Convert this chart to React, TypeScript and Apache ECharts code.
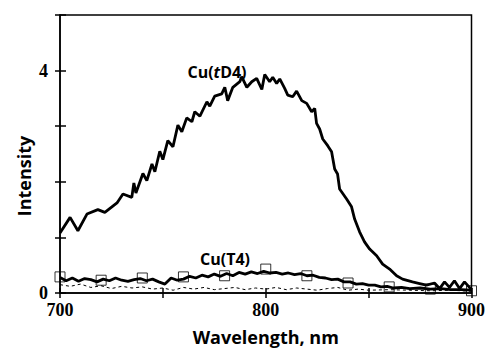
import React, { useEffect, useRef } from "react";
import * as echarts from "echarts";

// Cu(tD4) emission curve
const tD4Wavelengths = [
  700, 704.9, 708.7, 713.1, 718.4, 721.8, 727.7, 730.6, 734.9, 735.9, 736.9, 740.3, 742.2, 744.7, 746.1,
  748.5, 750.0, 752.4, 754.9, 757.3, 759.2, 761.6, 764.1, 765.5, 768.0, 771.4, 772.8, 775.2, 778.6,
  780.1, 781.5, 784.0, 787.4, 788.3, 790.8, 793.2, 795.6, 798.1, 799.5, 801.9, 803.4, 805.3, 806.8,
  809.2, 810.7, 813.1, 815.0, 817.5, 819.9, 822.3, 823.8, 824.7, 826.2, 827.7, 830.1, 832.0, 833.5,
  834.9, 835.9, 839.3, 841.7, 843.2, 845.6, 848.0, 850.5, 853.9, 856.8, 860.2, 863.6, 866.5, 871.3,
  874.8, 878.1, 882.0, 884.5, 886.9, 889.3, 891.7, 894.2, 896.6, 900,
];
const tD4Values = [
  1.08, 1.36, 1.12, 1.42, 1.5, 1.45, 1.62, 1.78, 1.72, 1.98, 1.8, 2.15, 2.02, 2.32, 2.18,
  2.55, 2.4, 2.74, 2.63, 3.02, 2.9, 3.15, 3.08, 3.26, 3.18, 3.44, 3.36, 3.54, 3.58,
  3.7, 3.46, 3.7, 3.8, 3.89, 3.7, 3.8, 3.86, 3.66, 3.93, 3.8, 3.88, 3.77, 3.85,
  3.68, 3.56, 3.53, 3.63, 3.46, 3.41, 3.26, 3.32, 3.05, 2.95, 2.77, 2.65, 2.54, 2.23,
  2.14, 1.87, 1.69, 1.55, 1.33, 1.1, 0.92, 0.79, 0.67, 0.52, 0.43, 0.31, 0.25, 0.2,
  0.17, 0.14, 0.18, 0.08, 0.2, 0.1, 0.22, 0.08, 0.2, 0.06,
];

// Cu(T4) emission curve
const t4Wavelengths = [
  700, 703, 706, 709, 712, 715, 718, 721, 724, 727, 730, 733, 736, 739, 742, 745, 748, 751, 754, 757,
  760, 763, 766, 769, 772, 775, 778, 781, 784, 787, 790, 793, 796, 799, 802, 805, 808, 811, 814, 817,
  820, 823, 826, 829, 832, 835, 838, 841, 844, 847, 850, 853, 856, 859, 862, 866, 870, 875, 880, 885,
  890, 895, 900,
];
const t4Values = [
  0.28, 0.22, 0.27, 0.21, 0.26, 0.24, 0.2, 0.25, 0.22, 0.27, 0.23, 0.21, 0.24, 0.26, 0.22, 0.25, 0.2, 0.16, 0.27, 0.23,
  0.25, 0.3, 0.27, 0.32, 0.29, 0.34, 0.3, 0.35, 0.31, 0.37, 0.34, 0.38, 0.35, 0.39, 0.36, 0.37, 0.34, 0.36, 0.33, 0.35,
  0.31, 0.32, 0.28, 0.27, 0.24, 0.25, 0.2, 0.2, 0.16, 0.17, 0.14, 0.14, 0.11, 0.12, 0.09, 0.1, 0.08, 0.09, 0.07, 0.08,
  0.06, 0.06, 0.05,
];

// Cu(T4) square markers
const t4MarkerWavelengths = [700, 720, 740, 760, 780, 800, 820, 840, 860, 880, 900];
const t4MarkerValues = [0.29, 0.23, 0.27, 0.29, 0.31, 0.43, 0.31, 0.18, 0.11, 0.07, 0.04];

// dashed baseline curve
const baseWavelengths = [
  700, 705, 710, 715, 720, 725, 730, 735, 740, 745, 750, 755, 760, 765, 770, 775, 780, 785, 790, 795,
  800, 805, 810, 815, 820, 825, 830, 835, 840, 845, 850, 860, 870, 880, 890, 900,
];
const baseValues = [
  0.15, 0.12, 0.16, 0.1, 0.13, 0.08, 0.12, 0.09, 0.11, 0.07, 0.09, 0.05, 0.1, 0.07, 0.1, 0.06, 0.08, 0.1, 0.06, 0.09,
  0.07, 0.1, 0.06, 0.09, 0.07, 0.05, 0.08, 0.1, 0.05, 0.07, 0.05, 0.06, 0.05, 0.04, 0.05, 0.03,
];

const xTickLabels = ["700", "800", "900"];
const yTickLabels = ["0", "4"];

const zip = (xs: number[], ys: number[]) => xs.map((x, i) => [x, ys[i]]);

export default function App() {
  const ref = useRef<HTMLDivElement>(null);
  useEffect(() => {
    if (!ref.current) return;
    const chart = echarts.init(ref.current, null, { renderer: "svg" });
    const serif = "'Liberation Serif', 'Times New Roman', serif";
    const sans = "'Open Sans', 'Noto Sans', sans-serif";
    const xBase = { type: "value", min: 700, max: 900, interval: 50 };
    const yBase = { type: "value", min: 0, max: 5, interval: 1 };
    chart.setOption({
      animation: false,
      grid: {
        left: 60,
        right: 16,
        top: 15,
        bottom: 57,
        show: true,
        borderColor: "#000",
        borderWidth: 1.5,
        backgroundColor: "transparent",
      },
      xAxis: [
        {
          ...xBase,
          name: "Wavelength, nm",
          nameLocation: "middle",
          nameGap: 35,
          nameTextStyle: { fontFamily: sans, fontWeight: "bold", fontSize: 18, color: "#000" },
          axisLine: { show: true, lineStyle: { color: "#000", width: 1.5 } },
          axisTick: { show: true, inside: false, length: 5, lineStyle: { color: "#000", width: 1.5 } },
          axisLabel: {
            margin: 8,
            fontFamily: serif,
            fontWeight: "bold",
            fontSize: 18,
            color: "#000",
            formatter: (v: number) => (xTickLabels.includes(String(v)) ? String(v) : ""),
          },
          splitLine: { show: false },
        },
        {
          ...xBase,
          position: "bottom",
          axisLine: { show: false },
          axisTick: { show: true, inside: true, length: 5, lineStyle: { color: "#000", width: 1.5 } },
          axisLabel: { show: false },
          splitLine: { show: false },
        },
      ],
      yAxis: [
        {
          ...yBase,
          axisLine: { show: true, lineStyle: { color: "#000", width: 1.5 } },
          axisTick: { show: true, inside: false, length: 5, lineStyle: { color: "#000", width: 1.5 } },
          axisLabel: {
            margin: 12,
            fontFamily: serif,
            fontWeight: "bold",
            fontSize: 18,
            color: "#000",
            formatter: (v: number) => (yTickLabels.includes(String(v)) ? String(v) : ""),
          },
          splitLine: { show: false },
        },
        {
          ...yBase,
          position: "left",
          axisLine: { show: false },
          axisTick: { show: true, inside: true, length: 6, lineStyle: { color: "#000", width: 1.5 } },
          axisLabel: { show: false },
          splitLine: { show: false },
        },
      ],
      series: [
        {
          name: "base",
          type: "line",
          data: zip(baseWavelengths, baseValues),
          showSymbol: false,
          lineStyle: { color: "#000", width: 1, type: [3, 3] },
          z: 2,
        },
        {
          name: "Cu(T4)",
          type: "line",
          data: zip(t4Wavelengths, t4Values),
          showSymbol: false,
          lineStyle: { color: "#000", width: 2.8 },
          z: 3,
        },
        {
          name: "Cu(T4) markers",
          type: "scatter",
          data: zip(t4MarkerWavelengths, t4MarkerValues),
          symbol: "rect",
          symbolSize: 10,
          itemStyle: { color: "transparent", borderColor: "#000", borderWidth: 1 },
          z: 4,
        },
        {
          name: "Cu(tD4)",
          type: "line",
          data: zip(tD4Wavelengths, tD4Values),
          showSymbol: false,
          lineStyle: { color: "#000", width: 2.8 },
          z: 5,
        },
      ],
      graphic: [
        {
          type: "text",
          x: 24,
          y: 176,
          rotation: Math.PI / 2,
          style: {
            text: "Intensity",
            align: "center",
            verticalAlign: "middle",
            fontFamily: sans,
            fontWeight: "bold",
            fontSize: 18,
            fill: "#000",
          },
        },
        {
          type: "text",
          x: 217,
          y: 72,
          style: {
            text: "{a|Cu(}{b|t}{a|D4)}",
            align: "center",
            verticalAlign: "middle",
            rich: {
              a: { fontFamily: sans, fontWeight: "bold", fontSize: 16, fill: "#000" },
              b: { fontFamily: sans, fontWeight: "bold", fontStyle: "italic", fontSize: 16, fill: "#000" },
            },
          },
        },
        {
          type: "text",
          x: 225,
          y: 259,
          style: {
            text: "Cu(T4)",
            align: "center",
            verticalAlign: "middle",
            fontFamily: sans,
            fontWeight: "bold",
            fontSize: 16,
            fill: "#000",
          },
        },
      ],
    });
    return () => chart.dispose();
  }, []);
  return <div ref={ref} style={{ width: 488, height: 351, position: "absolute", left: 0, top: 0 }} />;
}
